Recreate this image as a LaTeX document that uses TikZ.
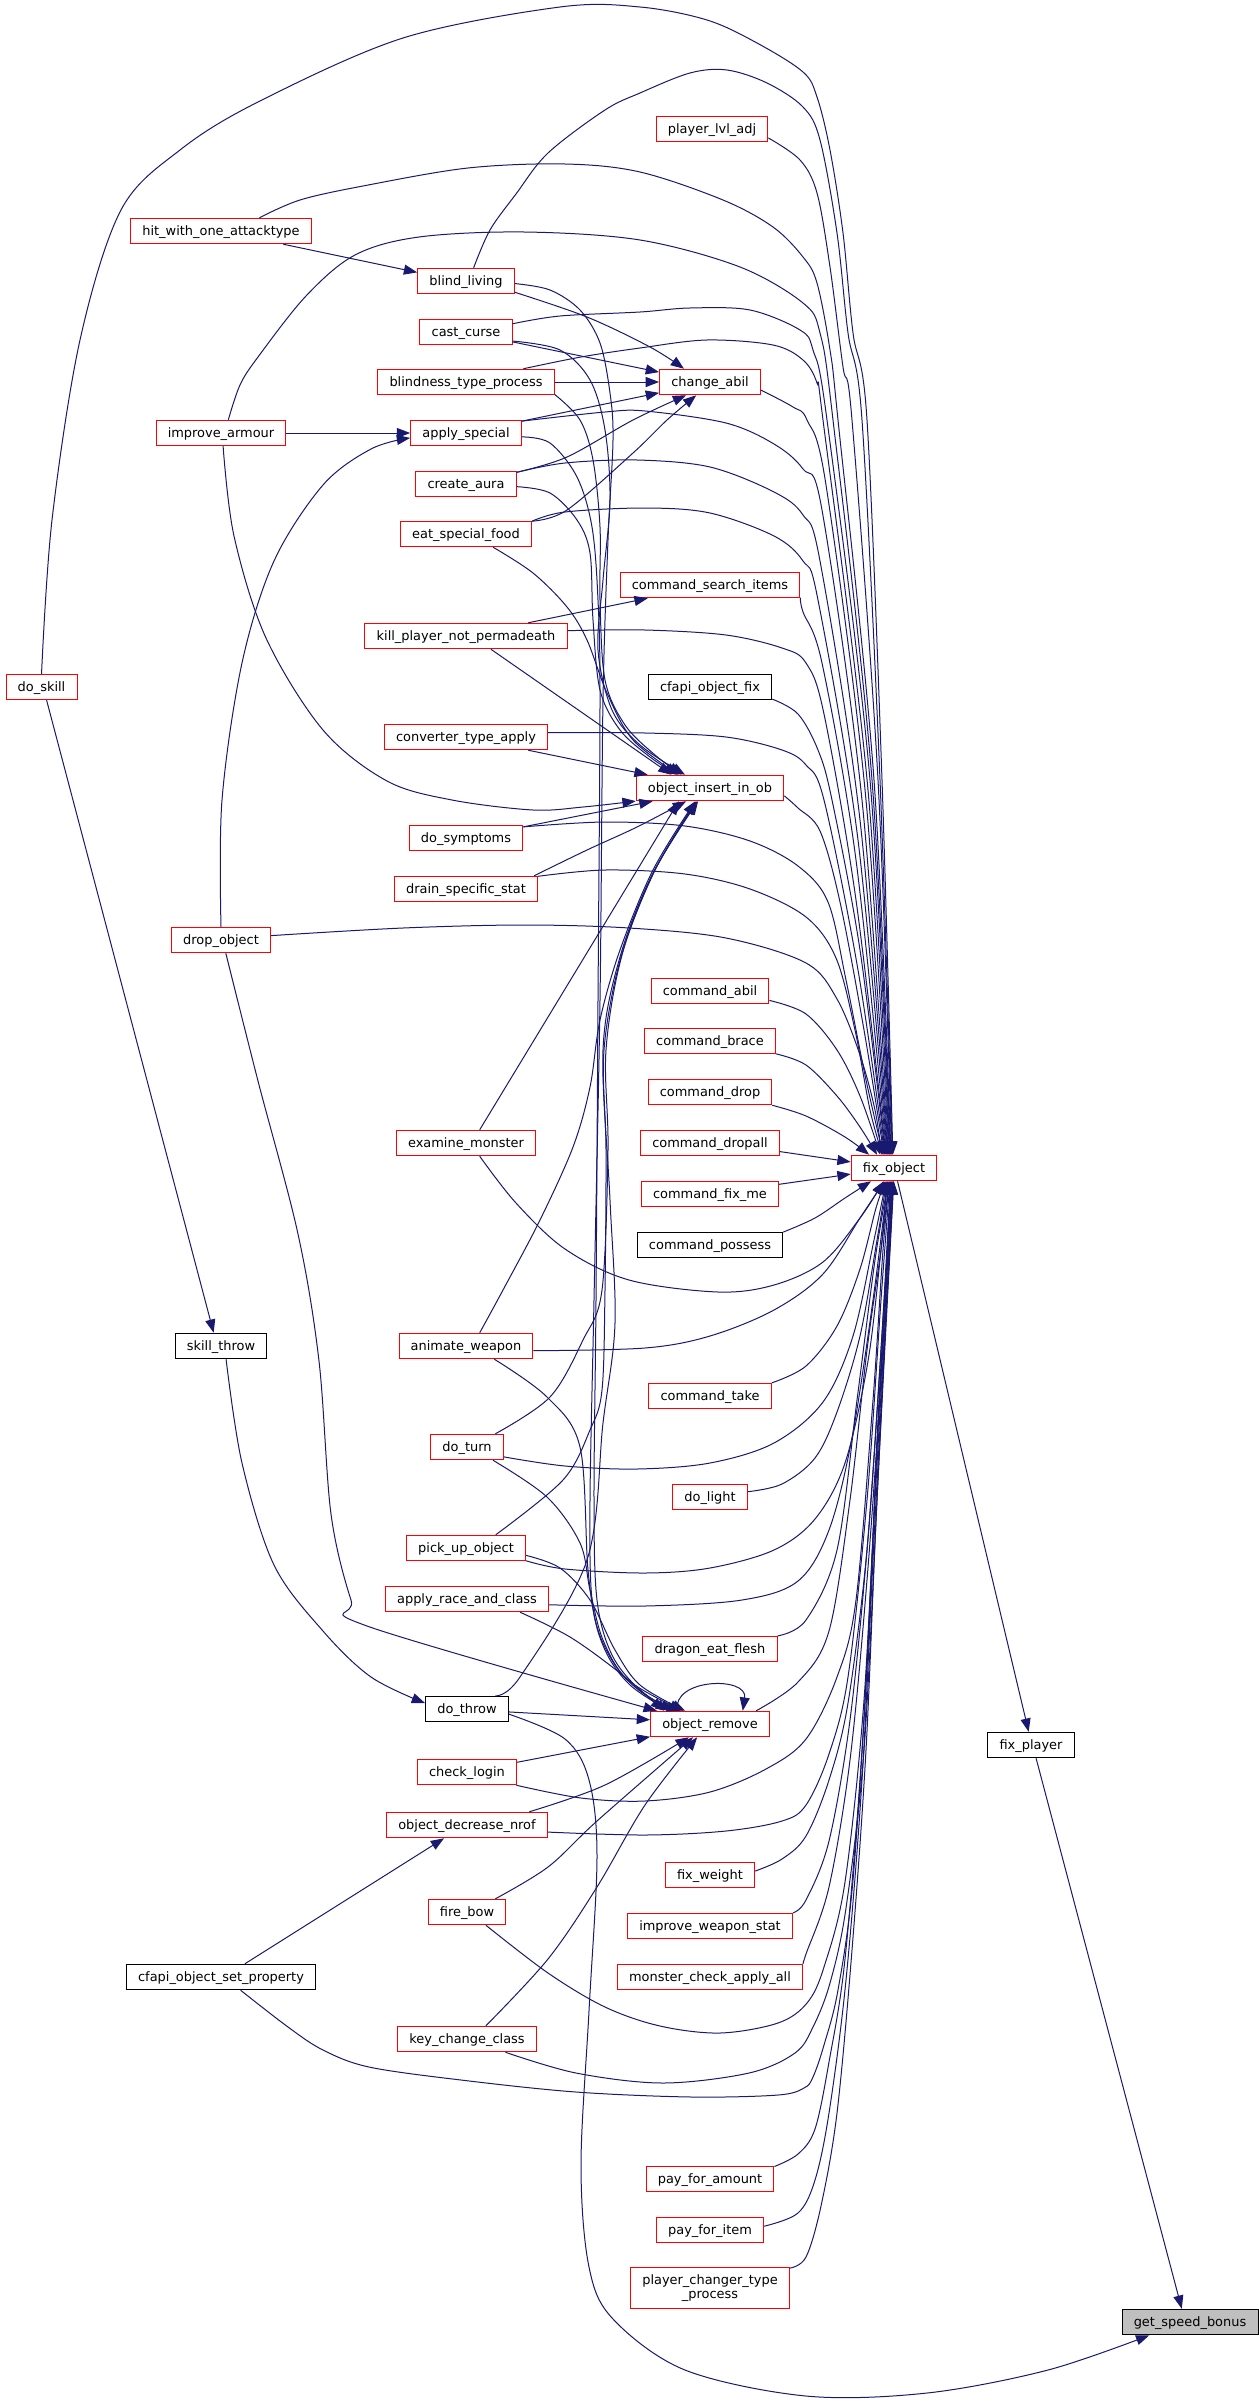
\documentclass[tikz,border=0pt]{standalone}
\usepackage{fontspec}
\setmainfont{DejaVu Sans}
\usetikzlibrary{arrows.meta}
\definecolor{edgec}{HTML}{191970}
\definecolor{nodered}{HTML}{FF0000}
\definecolor{gsbfill}{HTML}{BFBFBF}
\newcommand\nodefont{\fontsize{9.7}{10.4}\selectfont}
\begin{document}
\begin{tikzpicture}[x=0.75pt,y=-0.75pt,
  nbase/.style={rectangle, line width=0.75pt, inner xsep=8.8pt, inner ysep=0pt, minimum height=19.1pt, font=\nodefont},
  nsingle/.style={nbase, text height=7.2pt, text depth=0.4pt},
  nred/.style={nsingle, draw=nodered, fill=white},
  nblk/.style={nsingle, draw=black, fill=white},
  ngry/.style={nsingle, draw=black, fill=gsbfill},
  ntwo/.style={nbase, draw=nodered, fill=white, align=center, minimum height=30.75pt, inner ysep=2pt},
  edg/.style={draw=edgec, line width=0.75pt, -{Triangle[length=10pt,width=7.5pt]}},
  sm/.style={smooth, tension=0.55}
]
\fill[white] (0,0) rectangle (1259,2405);
\useasboundingbox (0,0) rectangle (1259,2405);

% ---------- nodes ----------
\node[nred] (pla) at (712,129) {player\_lvl\_adj};
\node[nred] (hit) at (221,231) {hit\_with\_one\_attacktype};
\node[nred] (bli) at (466,281) {blind\_living};
\node[nred] (cas) at (466,332) {cast\_curse};
\node[nred] (btp) at (466,382) {blindness\_type\_process};
\node[nred] (cha) at (710,382) {change\_abil};
\node[nred] (imp) at (221,433) {improve\_armour};
\node[nred] (aps) at (466,433) {apply\_special};
\node[nred] (cra) at (466,484) {create\_aura};
\node[nred] (esf) at (466,534) {eat\_special\_food};
\node[nred] (csi) at (710,585) {command\_search\_items};
\node[nred] (kpn) at (466,636) {kill\_player\_not\_permadeath};
\node[nred,anchor=west] (dsk) at (5.5,687) {do\_skill};
\node[nblk] (cof) at (710,687) {cfapi\_object\_fix};
\node[nred] (cta) at (466,737) {converter\_type\_apply};
\node[nred] (oio) at (710,788) {object\_insert\_in\_ob};
\node[nred] (dsy) at (466,838) {do\_symptoms};
\node[nred] (dss) at (466,889) {drain\_specific\_stat};
\node[nred] (dro) at (221,940) {drop\_object};
\node[nred] (cab) at (710,991) {command\_abil};
\node[nred] (cbr) at (710,1041) {command\_brace};
\node[nred] (cdr) at (710,1092) {command\_drop};
\node[nred] (exm) at (466,1143) {examine\_monster};
\node[nred] (cda) at (710,1143) {command\_dropall};
\node[nred] (fxo) at (894,1168) {fix\_object};
\node[nred] (cfm) at (710,1194) {command\_fix\_me};
\node[nblk] (cpo) at (710,1245) {command\_possess};
\node[nblk] (skt) at (221,1346) {skill\_throw};
\node[nred] (anw) at (466,1346) {animate\_weapon};
\node[nred] (ctk) at (710,1396) {command\_take};
\node[nred] (dtu) at (467,1447) {do\_turn};
\node[nred] (dli) at (710,1497) {do\_light};
\node[nred] (puo) at (466,1548) {pick\_up\_object};
\node[nred] (arc) at (467,1599) {apply\_race\_and\_class};
\node[nred] (def) at (710,1649) {dragon\_eat\_flesh};
\node[nblk] (dth) at (467,1709) {do\_throw};
\node[nred] (orm) at (710,1724) {object\_remove};
\node[nblk] (fxp) at (1031,1745) {fix\_player};
\node[nred] (clo) at (467,1772) {check\_login};
\node[nred] (odn) at (467,1825) {object\_decrease\_nrof};
\node[nred] (fwt) at (710,1875) {fix\_weight};
\node[nred] (fbw) at (467,1912) {fire\_bow};
\node[nred] (iws) at (710,1926) {improve\_weapon\_stat};
\node[nblk] (cos) at (221,1977) {cfapi\_object\_set\_property};
\node[nred] (mca) at (710,1977) {monster\_check\_apply\_all};
\node[nred] (kcc) at (467,2039) {key\_change\_class};
\node[nred] (pfa) at (710,2179) {pay\_for\_amount};
\node[nred] (pfi) at (710,2230) {pay\_for\_item};
\node[ntwo] (pct) at (710,2288) {player\_changer\_type\\\_process};
\node[ngry,anchor=east] (gsb) at (1258.5,2322) {get\_speed\_bonus};

% ---------- edges into fix_object from above ----------
\draw[edg] plot[sm] coordinates {(dsk.north) (52,520) (80,340) (121,210) (180,150) (258,102) (403,38) (560,7) (640,7) (707,20) (757,43) (803,72) (817,97) (830,150) (843,233) (853,333) (867,420) (882,780) (fxo.95)};
\draw[edg] plot[sm] coordinates {(bli.60) (490,230) (516,194) (548,153) (605,110) (640,93) (690,73) (727,70) (767,83) (803,107) (820,140) (837,233) (848,333) (862,420) (880,780) (fxo.97)};
\draw[edg] plot[sm] coordinates {(pla.351) (800,160) (817,193) (830,267) (843,367) (852,420) (878,780) (fxo.100)};
\draw[edg] plot[sm] coordinates {(hit.19) (300,200) (363,186) (468,168) (565,164) (640,172) (723,200) (773,227) (803,257) (817,283) (830,350) (838,420) (874,780) (fxo.103)};
\draw[edg] plot[sm] coordinates {(imp.61) (240,385) (258,357) (306,296) (355,255) (419,237) (524,232) (640,240) (740,267) (803,303) (820,333) (833,420) (872,780) (fxo.105)};
\draw[edg] plot[sm] coordinates {(cas.10) (560,316) (640,312) (690,308) (750,310) (800,330) (813,350) (827,420) (870,780) (fxo.107)};
\draw[edg] plot[sm] coordinates {(btp.13) (581,357) (640,348) (707,340) (773,345) (803,360) (817,383) (823,420) (868,790) (fxo.109)};
\draw[edg] plot[sm] coordinates {(cha.351) (793,407) (807,420) (826,485) (866,800) (fxo.111)};
\draw[edg] plot[sm] coordinates {(aps.12) (605,412) (645,411) (726,423) (774,444) (803,469) (822,510) (862,800) (fxo.113)};
\draw[edg] plot[sm] coordinates {(cra.13) (565,463) (637,460) (710,467) (774,492) (803,515) (820,561) (860,820) (fxo.115)};
\draw[edg] plot[sm] coordinates {(esf.11) (565,512) (645,508) (710,513) (774,536) (803,561) (818,600) (858,840) (fxo.117)};
\draw[edg] plot[sm] coordinates {(csi.352) (803,612) (822,663) (856,860) (fxo.119)};
\draw[edg] plot[sm] coordinates {(kpn.3) (645,630) (726,635) (782,648) (806,663) (824,714) (856,900) (fxo.121)};
\draw[edg] plot[sm] coordinates {(cof.349) (798,714) (818,750) (832,800) (860,950) (fxo.123)};
\draw[edg] plot[sm] coordinates {(cta.3) (645,733) (726,737) (782,750) (806,765) (824,800) (858,970) (fxo.125)};
\draw[edg] plot[sm] coordinates {(oio.354) (798,808) (820,831) (840,902) (864,1030) (fxo.127)};
\draw[edg] plot[sm] coordinates {(dsy.11) (605,822) (685,826) (750,841) (798,866) (828,902) (846,980) (866,1080) (fxo.129)};
\draw[edg] plot[sm] coordinates {(dss.10) (605,870) (685,874) (750,889) (806,917) (836,958) (855,1030) (870,1110) (fxo.131)};
\draw[edg] plot[sm] coordinates {(dro.5) (403,928) (524,925) (629,928) (726,938) (806,963) (837,999) (860,1055) (875,1110) (fxo.133)};
\draw[edg] plot[sm] coordinates {(cab.351) (806,1014) (837,1050) (860,1096) (fxo.136)};
\draw[edg] plot[sm] coordinates {(cbr.349) (806,1065) (837,1096) (860,1127) (fxo.142)};
\draw[edg] plot[sm] coordinates {(cdr.348) (806,1116) (845,1137) (fxo.152)};
\draw[edg] (cda.353) -- (fxo.172);
\draw[edg] (cfm.8) -- (fxo.188);
\draw[edg] plot[sm] coordinates {(cpo.10) (815,1218) (845,1198) (fxo.210)};

% ---------- edges into fix_object from below ----------
\draw[edg] plot[sm] coordinates {(exm.316) (516,1203) (565,1249) (629,1280) (718,1292) (774,1285) (823,1262) (860,1218) (fxo.232)};
\draw[edg] plot[sm] coordinates {(anw.356) (645,1348) (710,1336) (774,1310) (823,1274) (860,1218) (fxo.234)};
\draw[edg] plot[sm] coordinates {(ctk.12) (806,1366) (837,1326) (860,1269) (876,1208) (fxo.237)};
\draw[edg] plot[sm] coordinates {(dtu.345) (565,1466) (637,1469) (710,1463) (774,1443) (823,1402) (853,1336) (874,1240) (fxo.239)};
\draw[edg] plot[sm] coordinates {(dli.8) (782,1484) (815,1458) (837,1412) (860,1336) (877,1240) (fxo.241)};
\draw[edg] plot[sm] coordinates {(puo.348) (565,1569) (645,1573) (710,1568) (774,1550) (815,1519) (845,1463) (868,1361) (881,1250) (fxo.243)};
\draw[edg] plot[sm] coordinates {(arc.356) (645,1606) (742,1600) (798,1581) (829,1530) (852,1438) (873,1300) (fxo.245)};
\draw[edg] plot[sm] coordinates {(def.11) (806,1620) (837,1550) (857,1400) (875,1260) (fxo.247)};
\draw[edg] plot[sm] coordinates {(orm.16) (798,1682) (829,1631) (850,1500) (867,1350) (881,1250) (fxo.249)};
\draw[edg] plot[sm] coordinates {(clo.345) (581,1798) (645,1801) (710,1792) (766,1769) (806,1739) (837,1677) (856,1600) (873,1400) (883,1250) (fxo.251)};
\draw[edg] plot[sm] coordinates {(odn.355) (645,1835) (726,1831) (782,1821) (806,1805) (829,1754) (848,1677) (867,1500) (881,1300) (fxo.253)};
\draw[edg] plot[sm] coordinates {(fwt.5) (782,1859) (806,1836) (829,1780) (848,1703) (867,1550) (881,1350) (fxo.255)};
\draw[edg] plot[sm] coordinates {(fbw.325) (548,1973) (605,2007) (660,2026) (720,2033) (778,2023) (807,2003) (824,1967) (845,1882) (864,1700) (877,1450) (fxo.257)};
\draw[edg] plot[sm] coordinates {(iws.9) (806,1900) (829,1841) (850,1720) (867,1550) (881,1350) (fxo.259)};
\draw[edg] plot[sm] coordinates {(mca.8) (806,1954) (829,1887) (850,1760) (867,1580) (881,1380) (fxo.261)};
\draw[edg] plot[sm] coordinates {(kcc.341) (576,2073) (663,2083) (749,2073) (795,2053) (813,2027) (830,1983) (846,1908) (864,1750) (877,1500) (fxo.263)};
\draw[edg] plot[sm] coordinates {(cos.326) (288,2027) (323,2050) (369,2067) (461,2080) (576,2092) (692,2097) (778,2095) (804,2088) (813,2077) (824,2045) (838,1990) (853,1880) (868,1650) (879,1400) (fxo.265)};
\draw[edg] plot[sm] coordinates {(pfa.11) (798,2154) (815,2129) (829,2062) (845,1959) (862,1750) (875,1500) (fxo.267)};
\draw[edg] plot[sm] coordinates {(pfi.4) (798,2213) (815,2180) (829,2113) (846,1980) (862,1780) (875,1520) (fxo.268)};
\draw[edg] plot[sm] coordinates {(pct.14) (806,2257) (821,2206) (837,2113) (852,1950) (866,1750) (877,1500) (fxo.269)};

% ---------- fix_player / get_speed_bonus ----------
\draw[edg] (fxo.285) -- (fxp.100);
\draw[edg] (fxp.291) -- (gsb.122);
\draw[edg] plot[sm] coordinates {(dth.353) (565,1739) (589,1780) (597,1857) (589,2011) (581,2165) (589,2267) (613,2319) (685,2370) (806,2396) (927,2393) (1048,2370) (gsb.198)};

% ---------- left part ----------
\draw[edg] (hit.348) -- (bli.170);
\draw[edg] (imp.east) -- (aps.west);
\draw[edg] plot[sm] coordinates {(imp.279) (234,536) (266,638) (323,730) (387,781) (452,800) (533,810) (583,807) (oio.190)};
\draw[edg] plot[sm] coordinates {(dro.north) (222,800) (242,663) (274,561) (323,485) (371,449) (aps.185)};
\draw[edg] plot[sm] coordinates {(dro.290) (258,1081) (298,1234) (319,1361) (331,1514) (351,1600) (367,1626) (orm.166)};
\draw[edg] (dsk.291) -- (skt.119);
\draw[edg] plot[sm] coordinates {(skt.291) (242,1463) (274,1565) (323,1631) (371,1677) (dth.172)};
\draw[edg] (cos.29) -- (odn.210);

% ---------- change_abil ----------
\draw[edg] plot[sm] coordinates {(bli.347) (587,317) (650,347) (cha.153)};
\draw[edg] (cas.348) -- (cha.169);
\draw[edg] (btp.east) -- (cha.west);
\draw[edg] (aps.12) -- (cha.192);
\draw[edg] plot[sm] coordinates {(cra.13) (567,457) (633,420) (cha.209)};
\draw[edg] plot[sm] coordinates {(esf.11) (567,510) (633,453) (667,420) (cha.224)};

% ---------- command_search_items ----------
\draw[edg] (kpn.12) -- (csi.192);

% ---------- object_insert_in_ob ----------
\draw[edg] (kpn.332) -- (oio.161);
\draw[edg] plot[sm] coordinates {(esf.334) (533,573) (567,607) (587,640) (607,693) (633,740) (oio.157)};
\draw[edg] (cta.348) -- (oio.168);
\draw[edg] (dsy.11) -- (oio.193);
\draw[edg] plot[sm] coordinates {(dss.11) (587,850) (637,827) (oio.209)};
\draw[edg] (exm.44) -- (oio.203);
\draw[edg] plot[sm] coordinates {(anw.44) (503,1290) (540,1220) (573,1147) (590,1087) (600,1020) (620,950) (653,870) (oio.222)};
\draw[edg] plot[sm] coordinates {(dtu.25) (550,1397) (583,1340) (602,1290) (608,1150) (606,1050) (622,955) (655,870) (oio.224)};
\draw[edg] plot[sm] coordinates {(puo.24) (563,1480) (590,1430) (602,1390) (605,1290) (606,1150) (604,1050) (621,957) (654,872) (oio.226)};
\draw[edg] plot[sm] coordinates {(dth.25) (520,1677) (587,1560) (603,1423) (615,1323) (610,1200) (603,1050) (620,957) (653,873) (oio.228)};
\draw[edg] plot[sm] coordinates {(cas.349) (560,350) (590,380) (605,430) (610,500) (603,580) (598,650) (612,710) (640,745) (oio.152)};
\draw[edg] plot[sm] coordinates {(btp.352) (580,420) (593,460) (600,527) (600,600) (605,680) (625,725) (655,755) (oio.155)};
\draw[edg] plot[sm] coordinates {(cra.357) (550,493) (577,520) (590,553) (593,620) (600,690) (620,730) (650,757) (oio.158)};

% ---------- object_remove ----------
\draw[edg] plot[sm] coordinates {(bli.357) (550,290) (580,310) (600,343) (610,393) (613,440) (608,540) (603,700) (600,1000) (594,1300) (590,1500) (592,1600) (605,1650) (630,1685) (orm.162)};
\draw[edg] plot[sm] coordinates {(aps.356) (550,443) (577,477) (592,527) (598,600) (600,700) (598,1000) (596,1300) (594,1500) (597,1600) (612,1655) (640,1690) (orm.160)};
\draw[edg] plot[sm] coordinates {(anw.335) (547,1397) (580,1447) (588,1570) (598,1630) (620,1672) (650,1698) (orm.156)};
\draw[edg] plot[sm] coordinates {(dtu.333) (547,1497) (580,1543) (590,1590) (603,1640) (628,1680) (orm.154)};
\draw[edg] plot[sm] coordinates {(puo.353) (560,1568) (590,1600) (615,1650) (640,1685) (orm.152)};
\draw[edg] plot[sm] coordinates {(arc.346) (570,1637) (620,1673) (orm.164)};
\draw[edg] (dth.356) -- (orm.176);
\draw[edg] (clo.11) -- (orm.192);
\draw[edg] plot[sm] coordinates {(odn.12) (605,1785) (orm.212)};
\draw[edg] plot[sm] coordinates {(fbw.25) (548,1867) (597,1821) (orm.218)};
\draw[edg] plot[sm] coordinates {(kcc.35) (548,1959) (597,1887) (645,1805) (orm.226)};
\draw[edg] (orm.158) .. controls (672,1678) and (748,1676) .. (orm.22);
\end{tikzpicture}
\end{document}
